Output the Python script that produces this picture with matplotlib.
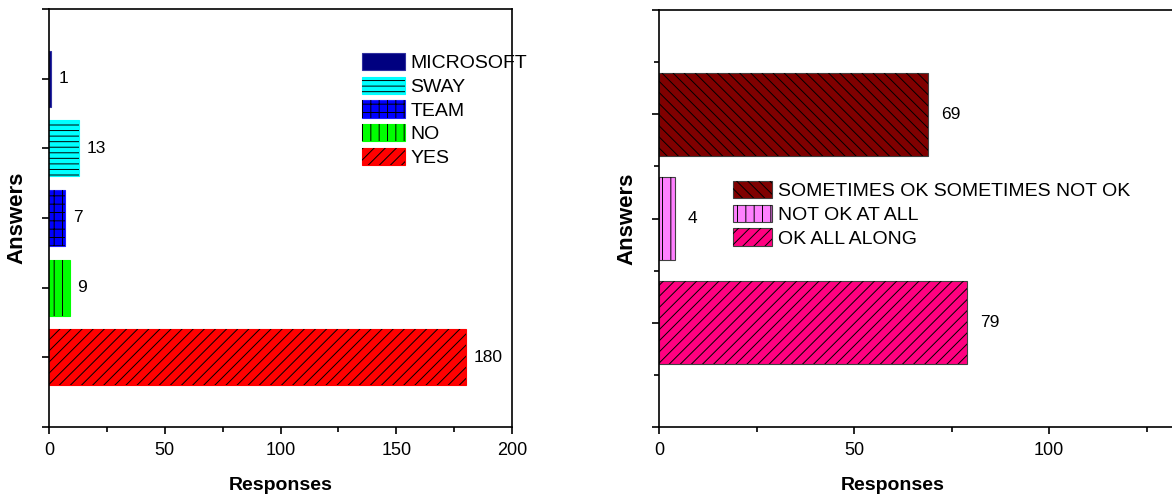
import matplotlib
matplotlib.use("Agg")
import matplotlib.pyplot as plt
from matplotlib.patches import Patch
from matplotlib.ticker import MultipleLocator, FixedLocator

# Survey answers, left panel (bottom to top)
tool_labels = ["YES", "NO", "TEAM", "SWAY", "MICROSOFT"]
tool_counts = [180, 9, 7, 13, 1]
tool_colors = ["#FF0000", "#00FF00", "#0000FF", "#00FFFF", "#000080"]
tool_edges = ["#FF0000", "#00FF00", "#2020FF", "#00FFFF", "#3030A0"]
tool_hatches = ["///", "||", "++", "---", ""]

# Survey answers, right panel (bottom to top)
ok_labels = ["OK ALL ALONG", "NOT OK AT ALL", "SOMETIMES OK SOMETIMES NOT OK"]
ok_counts = [79, 4, 69]
ok_colors = ["#FF0080", "#FF80FF", "#800000"]
ok_edges = ["#404040", "#404040", "#404040"]
ok_hatches = ["///", "||", "\\\\\\"]

plt.rcParams["font.family"] = ["Liberation Sans", "DejaVu Sans"]
plt.rcParams["font.size"] = 14
plt.rcParams["hatch.linewidth"] = 0.7
plt.rcParams["axes.linewidth"] = 1.2

W, H = 1172, 500
fig = plt.figure(figsize=(W / 100, H / 100), dpi=100)


def px_rect(left, top, right, bottom):
    return [left / W, 1 - bottom / H, (right - left) / W, (bottom - top) / H]


def hatched_bars(ax, ys, values, colors, hatches, edge, label_pad):
    bars = ax.barh(ys, values, height=0.8, color=colors, edgecolor=edge,
                   linewidth=0.8, zorder=2)
    # hatch drawn as a separate black layer so the outline keeps its own colour
    overlay = ax.barh(ys, values, height=0.8, facecolor="none",
                      edgecolor="black", linewidth=0, zorder=3)
    for b, h in zip(overlay, hatches):
        b.set_hatch(h)
    ax.bar_label(bars, padding=label_pad, fontsize=12.5)
    return bars


def style_axes(ax):
    ax.tick_params(axis="both", which="major", direction="out", length=5,
                   width=1.2, labelsize=13, pad=6)
    ax.tick_params(axis="both", which="minor", direction="out", length=3.5,
                   width=1.2)
    ax.set_yticklabels([])
    ax.set_ylabel("Answers", fontsize=16, fontweight="bold")
    ax.set_xlabel("Responses", fontsize=14, fontweight="bold")


def legend_handles(colors, hatches, edges):
    handles = []
    for c, h, e in zip(colors, hatches, edges):
        handles.append((Patch(facecolor=c, edgecolor=e, linewidth=0.8),
                        Patch(facecolor="none", edgecolor="black",
                              linewidth=0, hatch=h)))
    return handles


legend_kw = dict(loc="upper left", frameon=False, borderpad=0,
                 borderaxespad=0, handleheight=1.0, labelspacing=0.22,
                 handletextpad=0.3, fontsize=14)

# ---- left panel ----
ax1 = fig.add_axes(px_rect(49, 9, 512, 427))
ys1 = range(1, len(tool_counts) + 1)
hatched_bars(ax1, ys1, tool_counts, tool_colors, tool_hatches, tool_edges, 5.5)
ax1.set_xlim(0, 200)
ax1.set_ylim(0, 6)
ax1.xaxis.set_major_locator(MultipleLocator(50))
ax1.xaxis.set_minor_locator(MultipleLocator(25))
ax1.yaxis.set_major_locator(MultipleLocator(1))
style_axes(ax1)
ax1.yaxis.set_label_coords(-(49 - 27) / 463, 0.5)
ax1.xaxis.set_label_coords(0.5, -(477 - 427) / 418)

h1 = legend_handles(tool_colors, tool_hatches, tool_edges)
fig.legend(h1[::-1], tool_labels[::-1], bbox_to_anchor=(362 / W, 1 - 53 / H),
           handlelength=2.2, **legend_kw)

# ---- right panel (runs off the right edge) ----
ax2 = fig.add_axes(px_rect(659, 10, 1244, 427))
ys2 = range(1, len(ok_counts) + 1)
hatched_bars(ax2, ys2, ok_counts, ok_colors, ok_hatches, ok_edges, 9.5)
ax2.set_xlim(0, 150)
ax2.set_ylim(0, 4)
ax2.xaxis.set_major_locator(FixedLocator([0, 50, 100]))
ax2.xaxis.set_minor_locator(FixedLocator([25, 75, 125]))
ax2.yaxis.set_major_locator(MultipleLocator(1))
ax2.yaxis.set_minor_locator(MultipleLocator(0.5))
style_axes(ax2)
ax2.yaxis.set_label_coords(-(659 - 637) / 585, 0.5)
ax2.xaxis.set_label_coords((893 - 659) / 585, -(477 - 427) / 417)

h2 = legend_handles(ok_colors, ok_hatches, ok_edges)
fig.legend(h2[::-1], ok_labels[::-1], bbox_to_anchor=(733 / W, 1 - 181 / H),
           handlelength=2.0, **legend_kw)

fig.savefig("out.png", dpi=100)
